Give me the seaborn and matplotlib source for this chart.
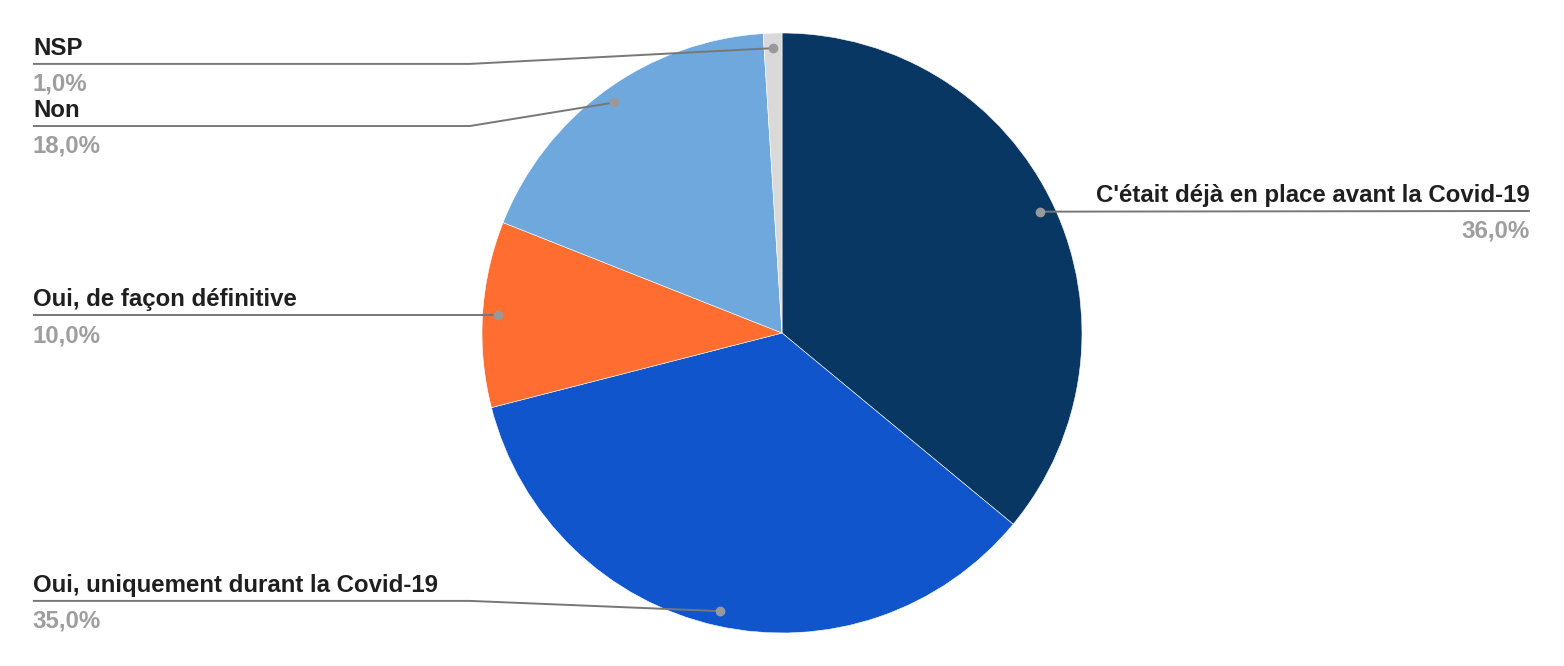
import numpy as np
import matplotlib
matplotlib.use("Agg")
import matplotlib.pyplot as plt
import seaborn as sns

# data (clockwise from the top)
labels = ["C'était déjà en place avant la Covid-19",
          "Oui, uniquement durant la Covid-19",
          "Oui, de façon définitive",
          "Non",
          "NSP"]
values = [36.0, 35.0, 10.0, 18.0, 1.0]
colors = ["#083763", "#1155cc", "#ff6d31", "#6fa8dc", "#d9d9d9"]

sns.set_style("white")
plt.rcParams['font.family'] = ['Liberation Sans', 'DejaVu Sans']

fig = plt.figure(figsize=(15.64, 6.66), dpi=100)
ax = fig.add_axes([0, 0, 1, 1])

wedges, _ = ax.pie(values, colors=colors, startangle=90, counterclock=False,
                   radius=1, center=(0, 0),
                   wedgeprops=dict(edgecolor="white", linewidth=0.4))

# label layout: (line y, elbow x, side)
layout = [
    (0.4067, None, "right"),
    (-0.893, -1.04, "left"),
    (0.06, None, "left"),
    (0.69, -1.04, "left"),
    (0.897, -1.04, "left"),
]
x_left, x_right = -2.497, 2.493
line_col = "#777777"

for w, (lbl, val), (ly, ex, side) in zip(wedges, zip(labels, values), layout):
    ang = np.deg2rad((w.theta1 + w.theta2) / 2)
    dx, dy = 0.95 * np.cos(ang), 0.95 * np.sin(ang)
    if side == "left":
        xs = [dx, ex if ex is not None else dx, x_left]
        ys = [dy, ly, ly]
        tx, ha = x_left, "left"
    else:
        xs = [dx, x_right]
        ys = [dy, ly]
        tx, ha = x_right, "right"
    ax.plot(xs, ys, color=line_col, lw=1.4, solid_capstyle="butt", zorder=3)
    ax.plot(dx, dy, "o", color="#999999", ms=6, zorder=4)
    ax.text(tx, ly + 0.013, lbl, ha=ha, va="bottom", fontsize=17.3,
            fontweight="bold", color="#1f1f1f")
    ax.text(tx, ly - 0.03, f"{val:.1f}%".replace(".", ","), ha=ha, va="top",
            fontsize=17.3, fontweight="bold", color="#9e9e9e")

ax.set_xlim(-782 / 300, 782 / 300)
ax.set_ylim(-333 / 300, 333 / 300)
ax.set_aspect("equal")
ax.axis("off")

fig.savefig("out.png", dpi=100)
